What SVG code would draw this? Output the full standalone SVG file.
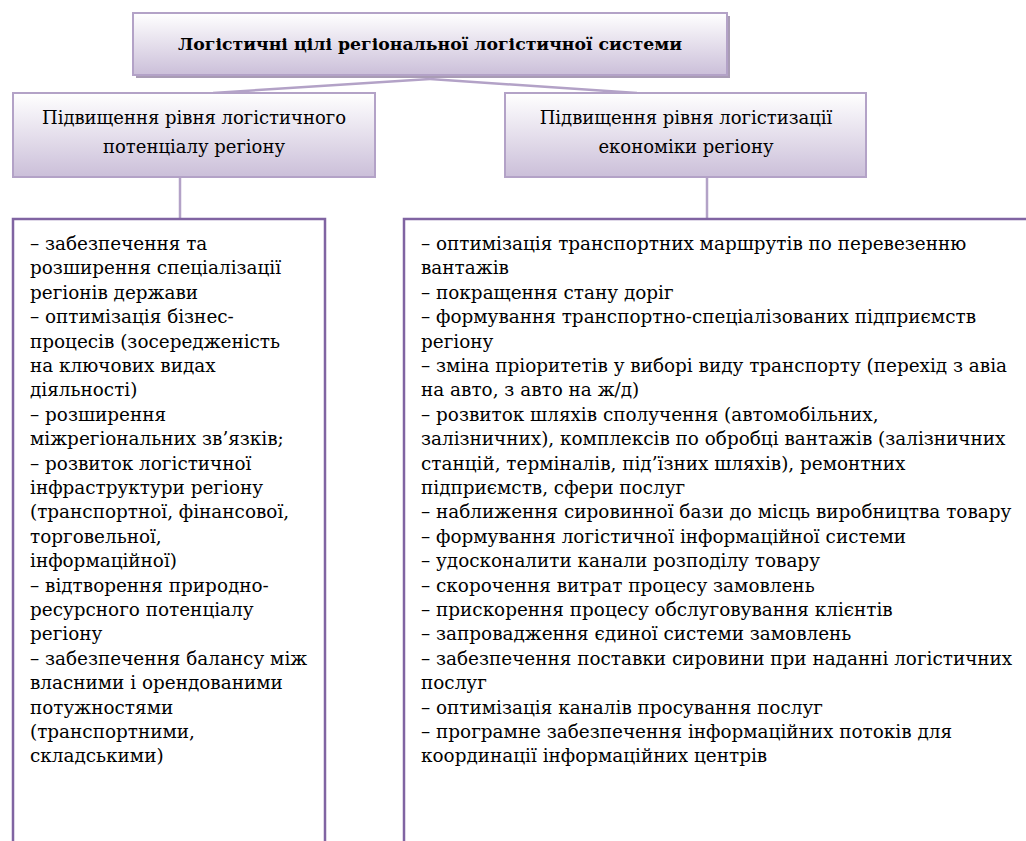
<svg xmlns="http://www.w3.org/2000/svg" width="1026" height="841" viewBox="0 0 1026 841" font-family="'DejaVu Serif', serif">
<defs>
<linearGradient id="g" x1="0" y1="0" x2="0" y2="1">
<stop offset="0" stop-color="#ffffff"/>
<stop offset="1" stop-color="#cbbfd9"/>
</linearGradient>
</defs>
<style>
.hb{fill:url(#g);stroke:#b3a2c7;stroke-width:2}
.sh{fill:#a99cb5}
.cb{fill:none;stroke:#8064a2;stroke-width:2.5}
.ln{stroke:#b3a2c7;stroke-width:2.5;fill:none}
.t{font-size:17.3px;font-weight:bold}
.h{font-size:18px}
.b{font-size:18.4px}
</style>
<rect width="1026" height="841" fill="#fff"/>
<g id="connectors">
<path class="ln" d="M430,79 L213,93"/>
<path class="ln" d="M430,79 L637,93"/>
<path class="ln" d="M180,177 V219"/>
<path class="ln" d="M707,177 V219"/>
</g>
<g id="top">
<rect class="sh" x="136" y="16" width="594" height="62"/>
<rect class="hb" x="133" y="13" width="594" height="62"/>
<text class="t" x="430" y="50" text-anchor="middle">Логістичні цілі регіональної логістичної системи</text>
</g>
<g id="left-head">
<rect class="hb" x="13" y="93" width="362" height="84"/>
<text class="h" x="194" y="124" text-anchor="middle">Підвищення рівня логістичного</text>
<text class="h" x="194" y="153" text-anchor="middle">потенціалу регіону</text>
</g>
<g id="right-head">
<rect class="hb" x="505" y="93" width="361" height="84"/>
<text class="h" x="686" y="124" text-anchor="middle">Підвищення рівня логістизації</text>
<text class="h" x="686" y="153" text-anchor="middle">економіки регіону</text>
</g>
<g id="left-body">
<path class="cb" d="M13,845 V219 H325 V845"/>
<text class="b" x="30" y="250">– забезпечення та</text>
<text class="b" x="30" y="274.4">розширення спеціалізації</text>
<text class="b" x="30" y="298.8">регіонів держави</text>
<text class="b" x="30" y="323.2">– оптимізація бізнес-</text>
<text class="b" x="30" y="347.6">процесів (зосередженість</text>
<text class="b" x="30" y="372">на ключових видах</text>
<text class="b" x="30" y="396.4">діяльності)</text>
<text class="b" x="30" y="420.8">– розширення</text>
<text class="b" x="30" y="445.2">міжрегіональних зв’язків;</text>
<text class="b" x="30" y="469.6">– розвиток логістичної</text>
<text class="b" x="30" y="494">інфраструктури регіону</text>
<text class="b" x="30" y="518.4">(транспортної, фінансової,</text>
<text class="b" x="30" y="542.8">торговельної,</text>
<text class="b" x="30" y="567.2">інформаційної)</text>
<text class="b" x="30" y="591.6">– відтворення природно-</text>
<text class="b" x="30" y="616">ресурсного потенціалу</text>
<text class="b" x="30" y="640.4">регіону</text>
<text class="b" x="30" y="664.8">– забезпечення балансу між</text>
<text class="b" x="30" y="689.2">власними і орендованими</text>
<text class="b" x="30" y="713.6">потужностями</text>
<text class="b" x="30" y="738">(транспортними,</text>
<text class="b" x="30" y="762.4">складськими)</text>
</g>
<g id="right-body">
<path class="cb" d="M404,845 V219 H1030"/>
<text class="b" x="421" y="250">– оптимізація транспортних маршрутів по перевезенню</text>
<text class="b" x="421" y="274.4">вантажів</text>
<text class="b" x="421" y="298.8">– покращення стану доріг</text>
<text class="b" x="421" y="323.2">– формування транспортно-спеціалізованих підприємств</text>
<text class="b" x="421" y="347.6">регіону</text>
<text class="b" x="421" y="372">– зміна пріоритетів у виборі виду транспорту (перехід з авіа</text>
<text class="b" x="421" y="396.4">на авто, з авто на ж/д)</text>
<text class="b" x="421" y="420.8">– розвиток шляхів сполучення (автомобільних,</text>
<text class="b" x="421" y="445.2">залізничних), комплексів по обробці вантажів (залізничних</text>
<text class="b" x="421" y="469.6">станцій, терміналів, під’їзних шляхів), ремонтних</text>
<text class="b" x="421" y="494">підприємств, сфери послуг</text>
<text class="b" x="421" y="518.4">– наближення сировинної бази до місць виробництва товару</text>
<text class="b" x="421" y="542.8">– формування логістичної інформаційної системи</text>
<text class="b" x="421" y="567.2">– удосконалити канали розподілу товару</text>
<text class="b" x="421" y="591.6">– скорочення витрат процесу замовлень</text>
<text class="b" x="421" y="616">– прискорення процесу обслуговування клієнтів</text>
<text class="b" x="421" y="640.4">– запровадження єдиної системи замовлень</text>
<text class="b" x="421" y="664.8">– забезпечення поставки сировини при наданні логістичних</text>
<text class="b" x="421" y="689.2">послуг</text>
<text class="b" x="421" y="713.6">– оптимізація каналів просування послуг</text>
<text class="b" x="421" y="738">– програмне забезпечення інформаційних потоків для</text>
<text class="b" x="421" y="762.4">координації інформаційних центрів</text>
</g>
</svg>
